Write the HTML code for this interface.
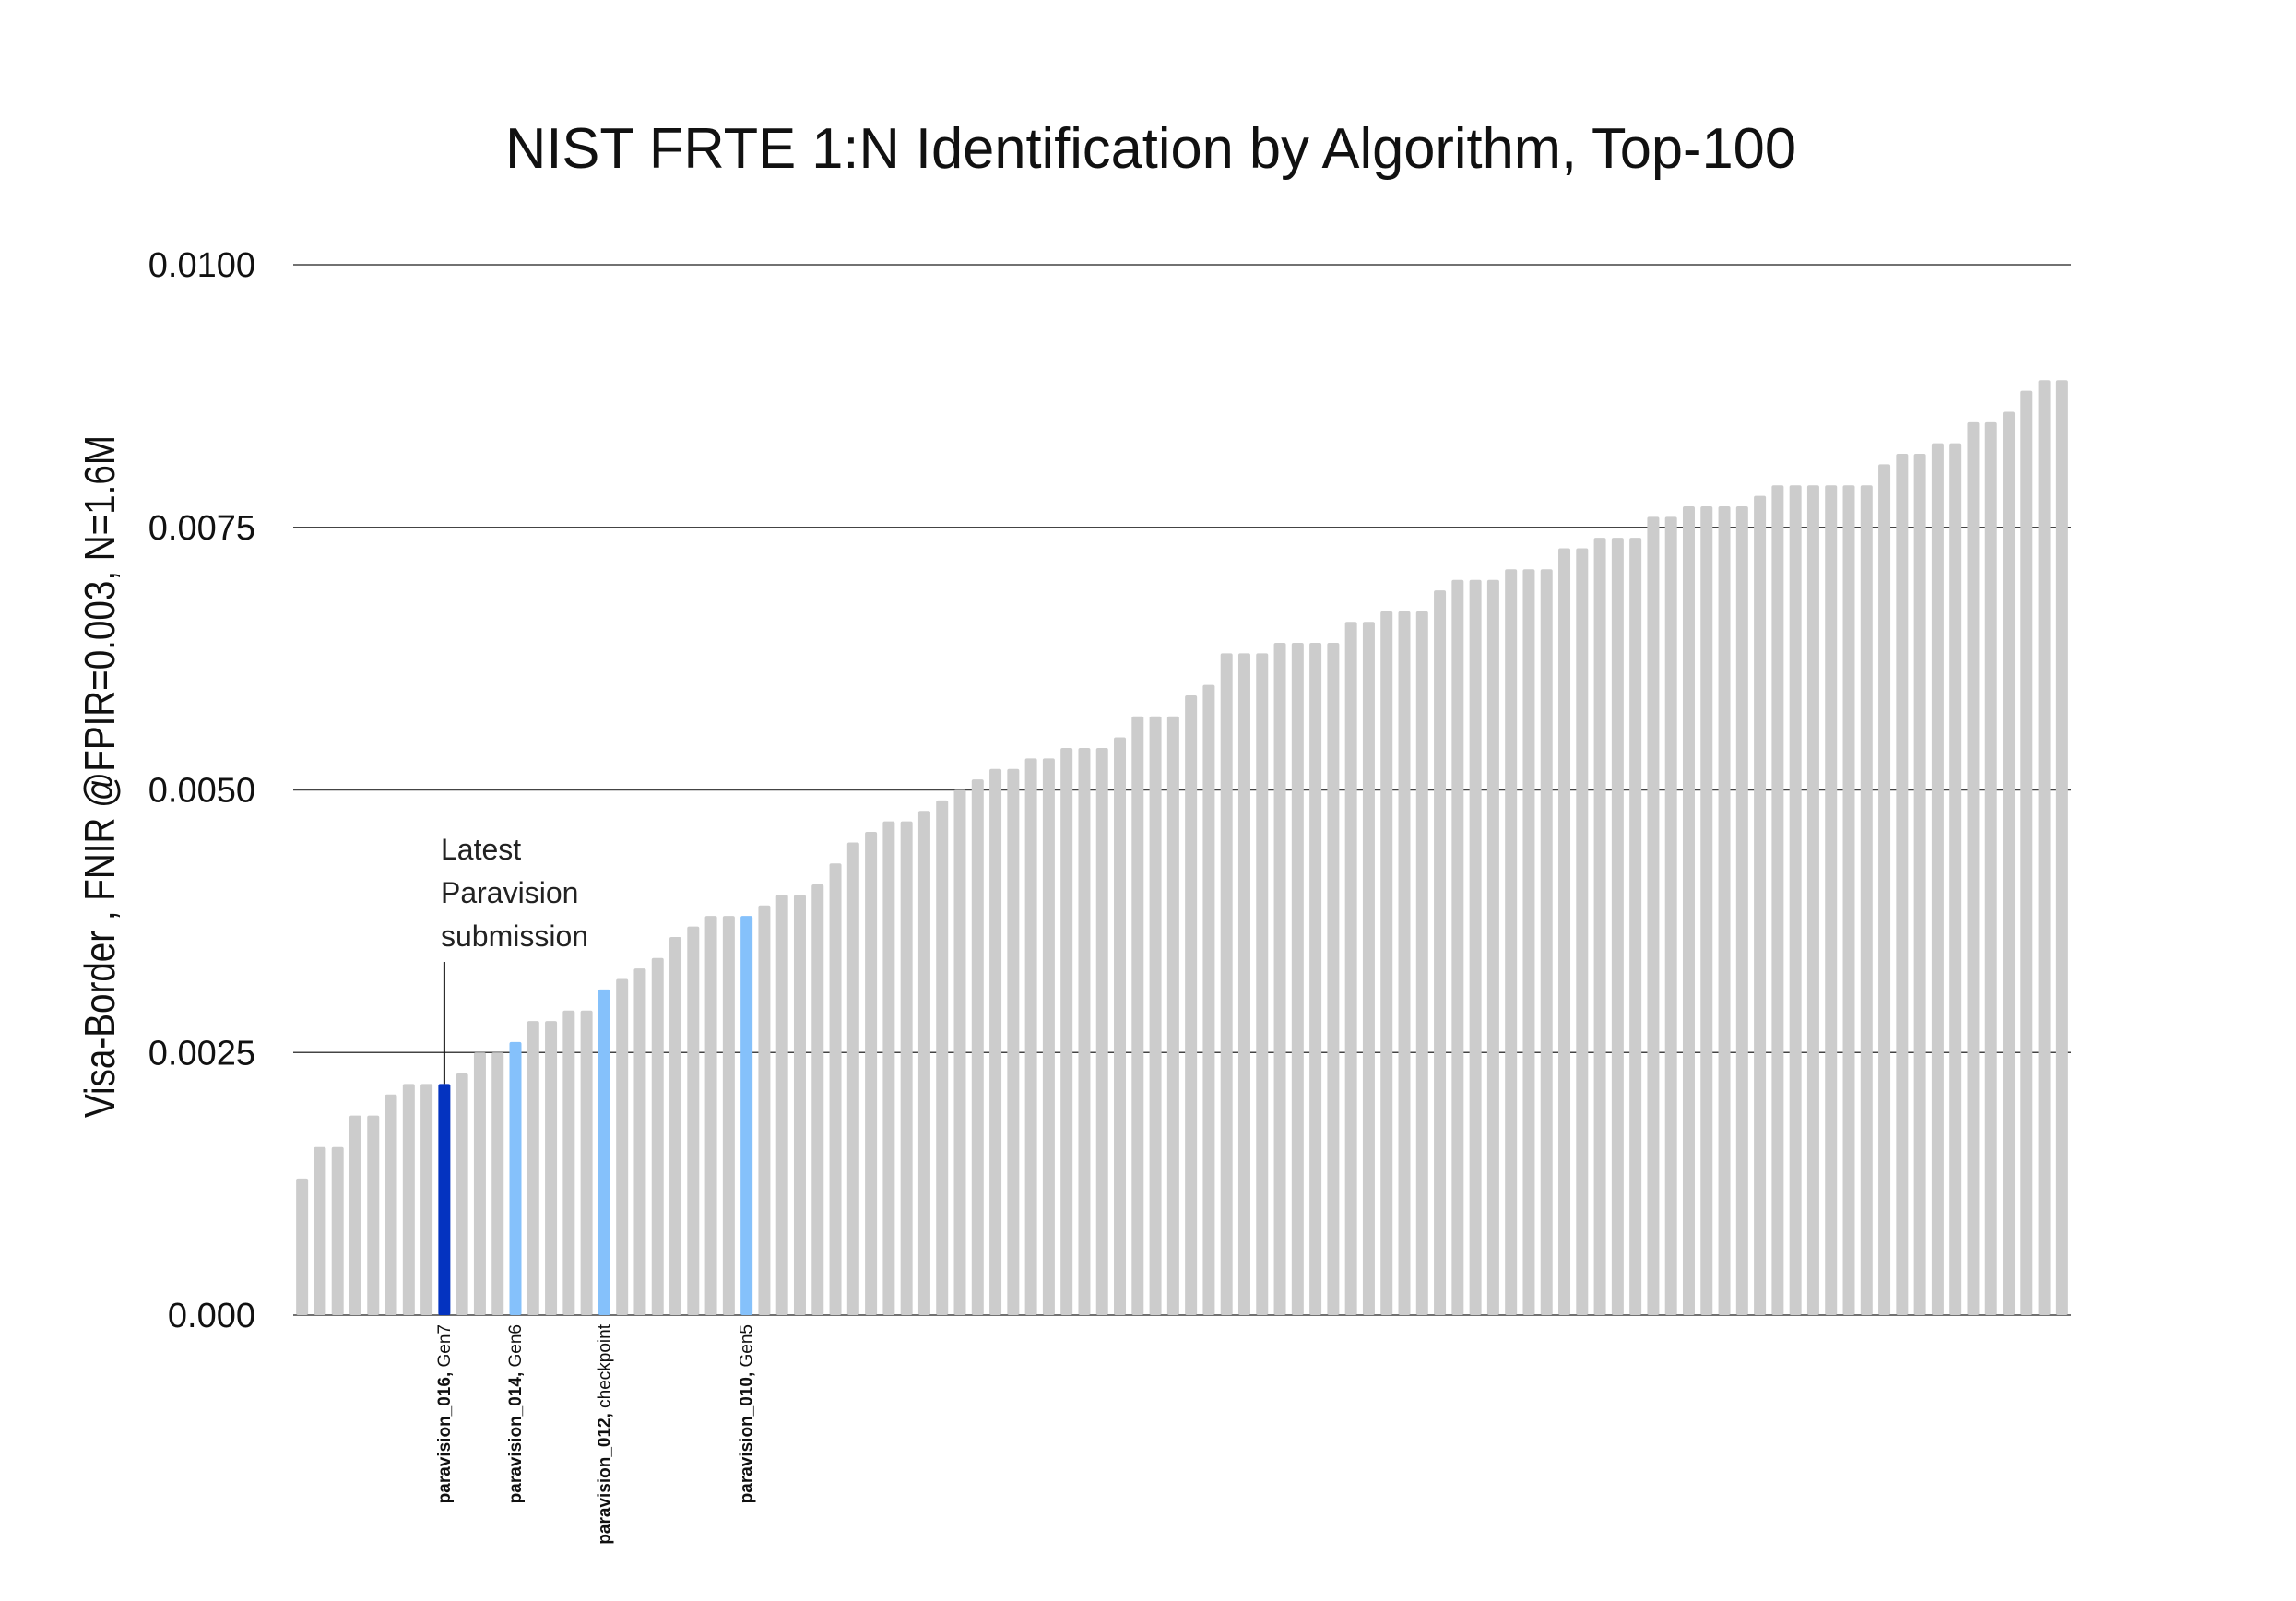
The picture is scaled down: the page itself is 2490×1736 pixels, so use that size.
<!DOCTYPE html>
<html><head><meta charset="utf-8"><style>
html,body{margin:0;padding:0;background:#fff}
svg{display:block}
text{font-family:"Liberation Sans",sans-serif}
</style></head><body>
<svg id="chart" width="2490" height="1736" viewBox="0 0 2490 1736" xmlns="http://www.w3.org/2000/svg">
<text x="1248" y="182" text-anchor="middle" font-size="62" fill="#111" textLength="1400" lengthAdjust="spacingAndGlyphs">NIST FRTE 1:N Identification by Algorithm, Top-100</text>
<text transform="translate(124,842) rotate(-90)" text-anchor="middle" font-size="46" fill="#111" textLength="740" lengthAdjust="spacingAndGlyphs">Visa-Border , FNIR @FPIR=0.003, N=1.6M</text>
<g id="grid"></g>
<g id="bars"></g>
<g id="labels"></g>
<g>
<text x="478" y="932" font-size="32" fill="#222">Latest</text>
<text x="478" y="979" font-size="32" fill="#222">Paravision</text>
<text x="478" y="1026" font-size="32" fill="#222">submission</text>
<line id="leader" x1="483" y1="1043" x2="483" y2="1176" stroke="#111" stroke-width="2"/>
</g>
</svg>
<script>
const values=[0.0013,0.0016,0.0016,0.0019,0.0019,0.0021,0.0022,0.0022,0.0022,0.0023,
0.0025,0.0025,0.0026,0.0028,0.0028,0.0029,0.0029,0.0031,0.0032,0.0033,
0.0034,0.0036,0.0037,0.0038,0.0038,0.0038,0.0039,0.0040,0.0040,0.0041,
0.0043,0.0045,0.0046,0.0047,0.0047,0.0048,0.0049,0.0050,0.0051,0.0052,
0.0052,0.0053,0.0053,0.0054,0.0054,0.0054,0.0055,0.0057,0.0057,0.0057,
0.0059,0.0060,0.0063,0.0063,0.0063,0.0064,0.0064,0.0064,0.0064,0.0066,
0.0066,0.0067,0.0067,0.0067,0.0069,0.0070,0.0070,0.0070,0.0071,0.0071,
0.0071,0.0073,0.0073,0.0074,0.0074,0.0074,0.0076,0.0076,0.0077,0.0077,
0.0077,0.0077,0.0078,0.0079,0.0079,0.0079,0.0079,0.0079,0.0079,0.0081,
0.0082,0.0082,0.0083,0.0083,0.0085,0.0085,0.0086,0.0088,0.0089,0.0089];
const highlightIdx=[8,12,17,25];
const highlightBold=["paravision_016,","paravision_014,","paravision_012,","paravision_010,"];
const highlightRest=[" Gen7"," Gen6"," checkpoint"," Gen5"];
const highlightColors=["#0433c0","#85c1fb","#85c1fb","#85c1fb"];
const yTicks=[0,0.0025,0.005,0.0075,0.01];
const yTickLabels=["0.000","0.0025","0.0050","0.0075","0.0100"];
const NS="http://www.w3.org/2000/svg";
const X0=318,X1=2246,Y0=1426,Y1=287,YMAX=0.01;
const band=(X1-X0)/values.length,bw=13;
const y=v=>Y0-(v/YMAX)*(Y0-Y1);
const xc=i=>X0+(i+0.5)*band;
const grid=document.getElementById('grid');
yTicks.forEach((t,k)=>{
  const l=document.createElementNS(NS,'line');
  l.setAttribute('x1',X0);l.setAttribute('x2',X1);l.setAttribute('y1',y(t));l.setAttribute('y2',y(t));
  l.setAttribute('stroke','#444');l.setAttribute('stroke-width','1.5');
  
  
  grid.appendChild(l);
  const tx=document.createElementNS(NS,'text');
  tx.setAttribute('x',277);tx.setAttribute('y',y(t)+13);tx.setAttribute('text-anchor','end');
  tx.setAttribute('font-size','38');tx.setAttribute('fill','#111');
  tx.textContent=yTickLabels[k];
  
  
  grid.appendChild(tx);
});
const bars=document.getElementById('bars');
values.forEach((v,i)=>{
  const r=document.createElementNS(NS,'rect');
  const h=highlightIdx.indexOf(i);
  r.setAttribute('x',xc(i)-bw/2);r.setAttribute('y',y(v));
  r.setAttribute('width',bw);r.setAttribute('height',Y0-y(v));
  r.setAttribute('rx','2');
  r.setAttribute('fill',h>=0?highlightColors[h]:'#cccccc');
  
  
  bars.appendChild(r);
});
document.getElementById('leader').setAttribute('x1',xc(highlightIdx[0]));
document.getElementById('leader').setAttribute('x2',xc(highlightIdx[0]));
document.getElementById('leader').setAttribute('y2',y(values[highlightIdx[0]]));
const labels=document.getElementById('labels');
highlightIdx.forEach((idx,k)=>{
  const t=document.createElementNS(NS,'text');
  t.setAttribute('transform','translate('+(xc(idx)+6)+','+(Y0+10)+') rotate(-90)');
  t.setAttribute('text-anchor','end');t.setAttribute('font-size','19');t.setAttribute('fill','#111');
  const b=document.createElementNS(NS,'tspan');b.setAttribute('font-weight','bold');b.textContent=highlightBold[k];
  const n=document.createElementNS(NS,'tspan');n.textContent=highlightRest[k];
  t.appendChild(b);t.appendChild(n);
  
  
  labels.appendChild(t);
});
</script>
</body></html>
